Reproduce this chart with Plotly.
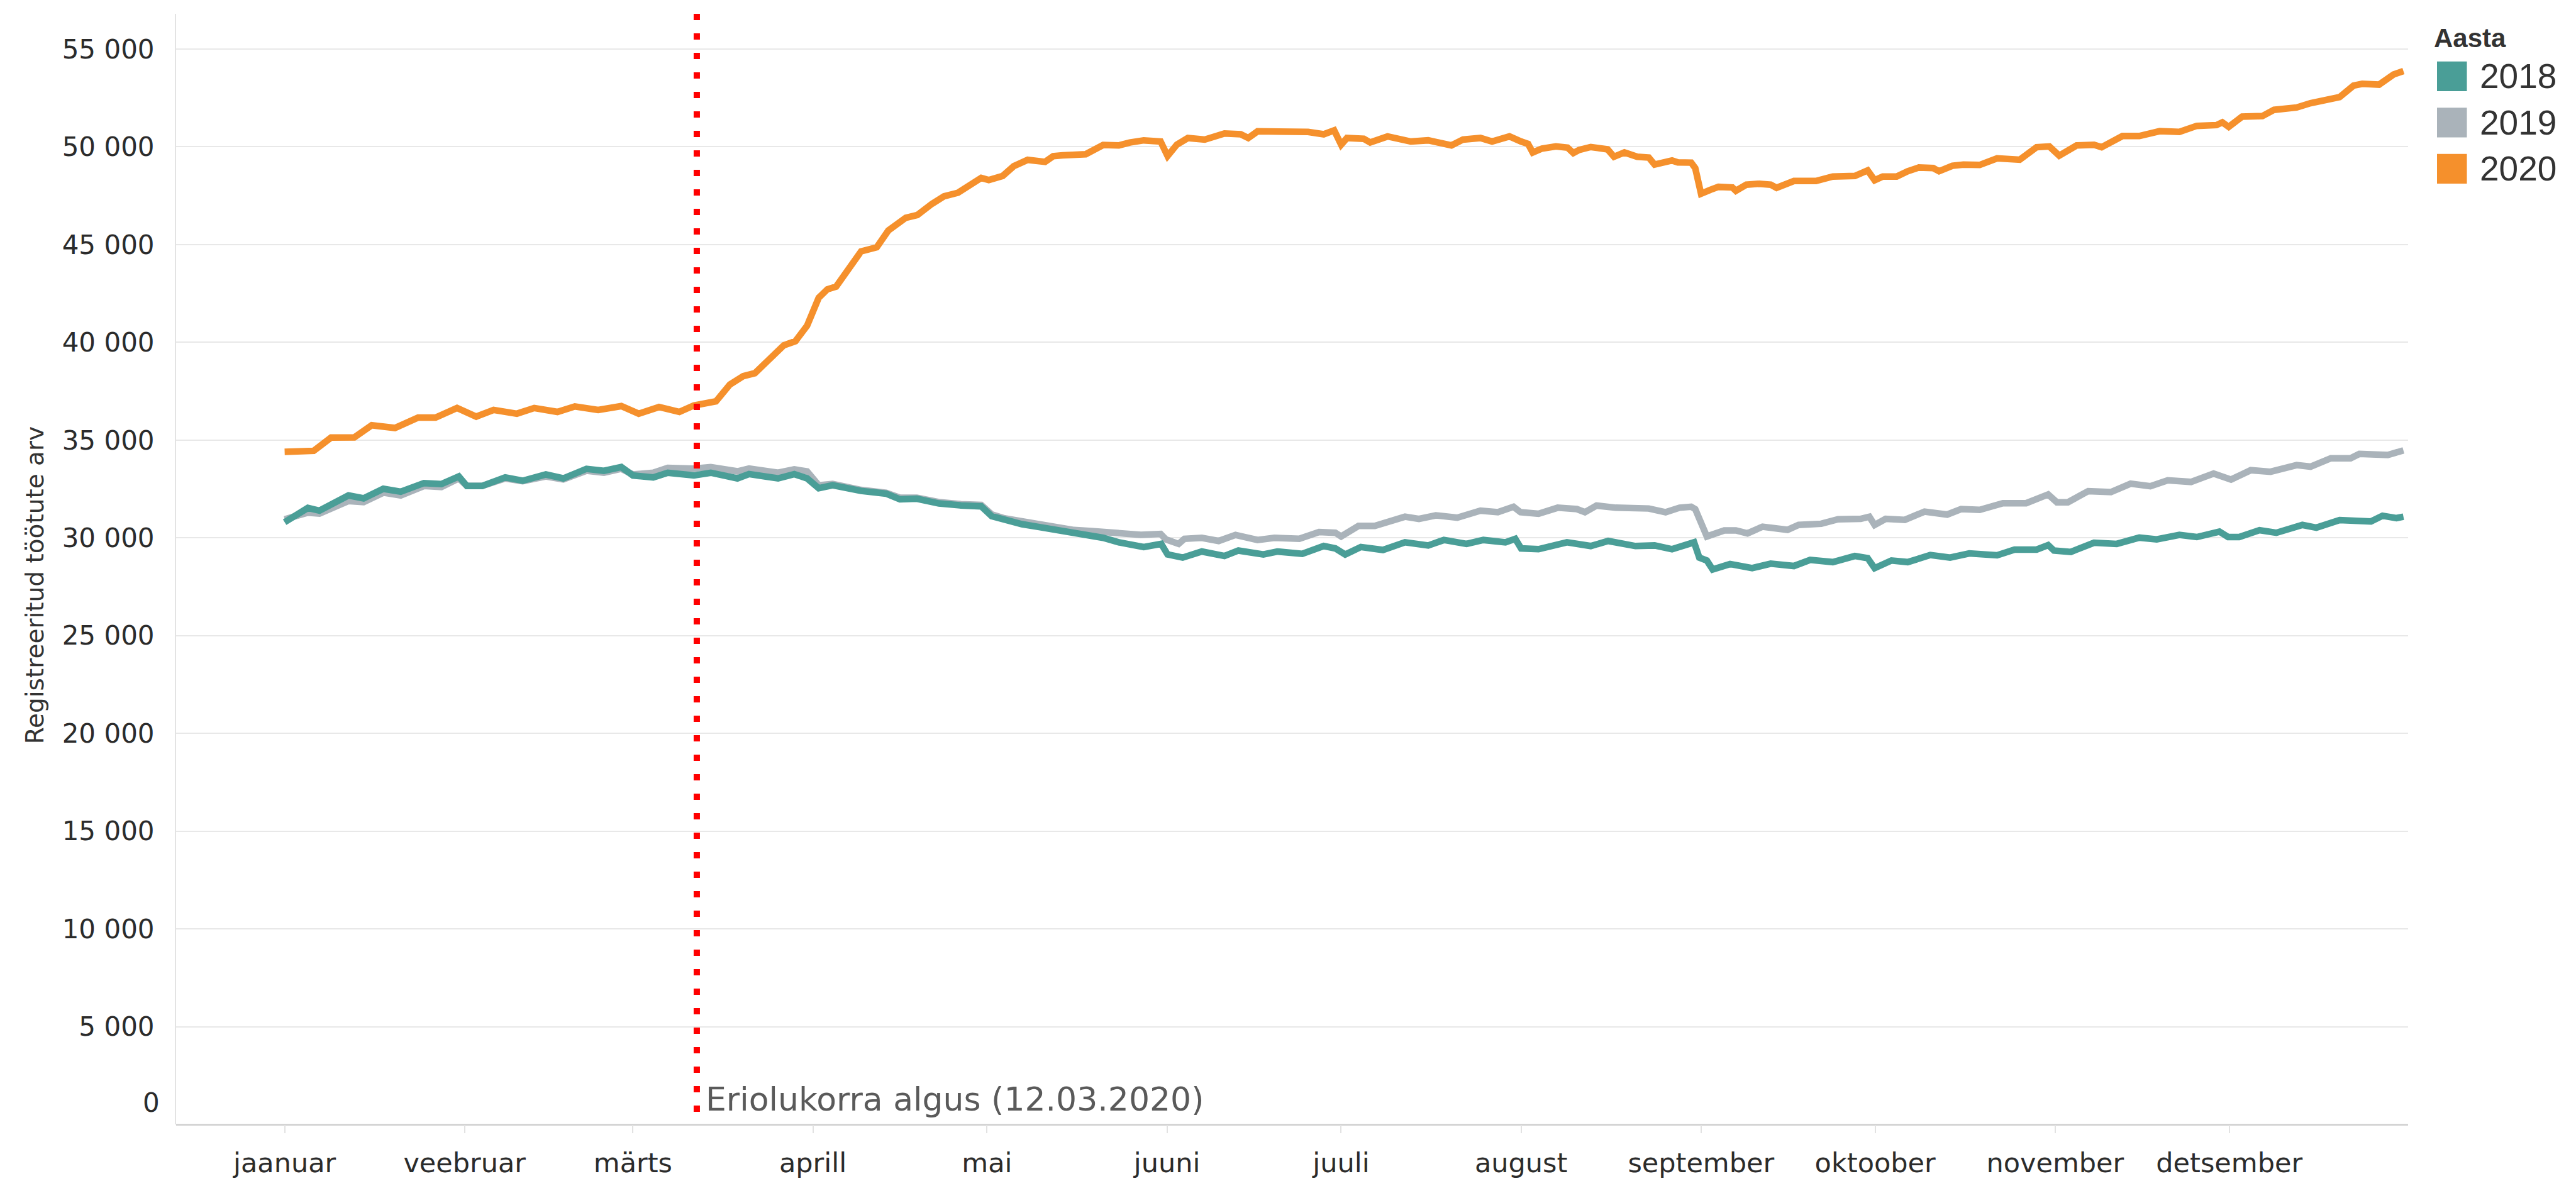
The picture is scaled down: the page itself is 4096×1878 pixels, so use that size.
import datetime as dt
import plotly.graph_objects as go

# ---------------- data (day index from 1 Jan, values = registered unemployed) -------------
years = ["2018", "2019", "2020"]
colors = ["#4A9E97", "#AAB3BA", "#F5902C"]

days_2018 = [0, 4, 6, 11, 13.6, 17, 20, 24, 27, 30, 31.4, 34, 38, 41, 45, 48, 52, 55, 58, 60,
             63.5, 66, 70.5, 73.4, 78, 80, 85, 87.8, 90, 92, 94.4, 99.3, 103.6, 106, 108.9,
             112.7, 116.5, 120, 121.8, 124, 127, 130, 133, 136, 139, 141, 143.7, 148, 151,
             152.1, 154.7, 158, 161.9, 164.3, 168.6, 171, 175.3, 179, 181, 182.7, 185.4, 189.2,
             193, 197, 199.7, 203.6, 206.5, 210.3, 212, 213, 216, 220.9, 225, 228, 232.7, 236,
             239, 242.8, 243.7, 245, 246, 249, 252.8, 256, 260, 262.8, 266.7, 270.5, 272.7,
             273.9, 276.8, 279.6, 283.5, 286.9, 290.2, 295, 298, 301.8, 303.8, 304.8, 307.7,
             311.7, 315.6, 319.5, 322.5, 326.4, 329.4, 333.3, 334.8, 336.7, 340.2, 343.1,
             347.6, 350, 354, 359.4, 361.4, 363.8, 365]
vals_2018 = [30800, 31530, 31390, 32170, 32020, 32510, 32360, 32800, 32750, 33140, 32650, 32650,
             33090, 32920, 33240, 33040, 33530, 33430, 33620, 33190, 33090, 33330, 33190, 33330,
             33040, 33260, 33040, 33260, 33040, 32540, 32690, 32400, 32260, 31970, 32000, 31760,
             31660, 31610, 31110, 30900, 30700, 30550, 30400, 30200, 30100, 30000, 29770, 29530,
             29690, 29150, 28990, 29300, 29070, 29350, 29150, 29300, 29180, 29580, 29460, 29150,
             29530, 29380, 29770, 29610, 29890, 29690, 29890, 29770, 29950, 29460, 29420, 29770,
             29580, 29840, 29580, 29610, 29420, 29770, 28990, 28840, 28380, 28660, 28450, 28680,
             28560, 28870, 28760, 29070, 28960, 28450, 28840, 28760, 29120, 28990, 29200, 29110,
             29400, 29400, 29630, 29350, 29280, 29750, 29690, 30010, 29920, 30150, 30040, 30320,
             30040, 30040, 30390, 30260, 30660, 30520, 30910, 30840, 31130, 31010, 31080]

days_2019 = [0, 4, 6, 11, 13.6, 17, 20, 24, 27, 30, 31.4, 34, 38, 41, 45, 48, 52, 55, 58, 60,
             63.5, 66, 70.5, 73.4, 78, 80, 85, 87.8, 90, 92, 94.4, 99.3, 103.6, 106, 108.9,
             112.7, 116.5, 120, 121.8, 124, 127, 130, 133, 136, 139, 141, 143.7, 147.5, 150.9,
             151.8, 154, 155, 158, 160.9, 163.8, 167.6, 170.5, 174.8, 178.2, 181, 182, 185,
             187.8, 190.7, 193, 195.4, 198.3, 202, 206, 209, 211.7, 212.9, 216, 219.3, 222.6,
             224, 226, 229.3, 233, 235, 237.9, 240.3, 242.3, 243, 245, 248, 250, 252, 254.6,
             258.9, 260.8, 264.7, 267.6, 271.5, 273, 273.9, 275.8, 279.1, 282.5, 286.4, 288.8,
             292, 296, 300, 303.8, 305.3, 307.2, 310.7, 314.6, 318, 321.4, 324.4, 328.4, 332.3,
             335.3, 338.7, 342.1, 346.6, 349, 352.5, 355.9, 357.4, 362.3, 365]
vals_2019 = [30950, 31290, 31240, 31880, 31830, 32310, 32170, 32650, 32600, 33040, 32650, 32650,
             33040, 32900, 33140, 32990, 33430, 33330, 33530, 33240, 33330, 33580, 33540, 33620,
             33400, 33540, 33330, 33500, 33400, 32690, 32760, 32450, 32300, 32050, 32050, 31830,
             31720, 31680, 31200, 31000, 30850, 30700, 30550, 30400, 30350, 30300, 30300, 30150,
             30200, 29920, 29690, 29950, 30000, 29840, 30150, 29890, 30000, 29950, 30300, 30260,
             30070, 30610, 30610, 30920, 31080, 30970, 31150, 31030, 31390, 31310, 31590, 31310,
             31230, 31540, 31470, 31310, 31650, 31540, 31470, 31500, 31310, 31540, 31590, 31470,
             30070, 30380, 30380, 30230, 30570, 30410, 30660, 30720, 30950, 30970, 31080, 30660,
             30970, 30920, 31340, 31190, 31470, 31430, 31770, 31770, 32220, 31820, 31820, 32390,
             32340, 32770, 32640, 32940, 32860, 33290, 32980, 33460, 33380, 33720, 33640, 34070,
             34070, 34290, 34240, 34470]

days_2020 = [0, 5, 8, 12, 15, 19, 23, 26, 29.7, 33, 36, 40, 43, 47, 50, 54, 58, 61, 64.5, 68,
             70.5, 74.3, 76.7, 79, 81, 84, 86, 88, 90, 92, 93.5, 95, 97.4, 99.3, 102, 104, 107,
             109, 111.5, 113.6, 116, 118.4, 120, 121.3, 123.7, 125.6, 128, 131, 132.4, 134, 138,
             141, 143.7, 145.6, 148, 150.9, 152.1, 153.7, 155.6, 158.5, 161.9, 164.7, 166, 167.6,
             172.4, 176.3, 179, 180.8, 182, 183, 185.9, 187, 190, 194, 197, 201, 203, 206, 208,
             211, 213, 214.2, 215, 216.6, 219, 221, 222, 223, 225, 227.9, 229, 230.8, 233, 235,
             236, 239, 240, 242.3, 243, 244, 245.6, 247, 249.4, 250, 251.8, 254, 256, 257, 260,
             263.8, 266.7, 270.5, 272.7, 273.9, 275.3, 277.7, 279.6, 281.5, 284, 285, 287.3,
             289.2, 292, 295, 298.9, 301.8, 304, 305.7, 308.7, 311.7, 313, 316.6, 319.5, 323,
             326.4, 329.4, 332.8, 333.8, 334.9, 337.2, 340.7, 342.7, 346.6, 349, 354, 356.4,
             357.9, 360.8, 363.3, 365]
vals_2020 = [34400, 34450, 35130, 35140, 35760, 35620, 36150, 36150, 36640, 36200, 36540, 36350,
             36640, 36440, 36720, 36540, 36740, 36350, 36690, 36440, 36770, 36980, 37840, 38270,
             38420, 39280, 39850, 40060, 40850, 42280, 42710, 42850, 43930, 44650, 44860, 45720,
             46370, 46510, 47080, 47470, 47650, 48160, 48410, 48300, 48510, 49010, 49330, 49230,
             49520, 49560, 49620, 50090, 50070, 50220, 50330, 50270, 49530, 50110, 50450, 50370,
             50680, 50640, 50450, 50790, 50760, 50760, 50640, 50840, 50110, 50450, 50410, 50220,
             50530, 50270, 50330, 50070, 50370, 50450, 50270, 50530, 50270, 50150, 49710, 49910,
             50020, 49960, 49680, 49840, 49990, 49870, 49490, 49710, 49490, 49450, 49090, 49300,
             49200, 49190, 48910, 47600, 47800, 47950, 47920, 47750, 48060, 48110, 48060, 47900,
             48250, 48250, 48480, 48510, 48790, 48290, 48480, 48480, 48750, 48940, 48910, 48750,
             49030, 49090, 49070, 49410, 49340, 49980, 50020, 49550, 50070, 50100, 49980, 50550,
             50550, 50800, 50760, 51070, 51110, 51250, 51020, 51540, 51570, 51890, 52010, 52230,
             52540, 53130, 53220, 53180, 53700, 53870]

month_labels = ["jaanuar", "veebruar", "märts", "aprill", "mai", "juuni", "juuli", "august",
                "september", "oktoober", "november", "detsember"]
y_ticks = [5000, 10000, 15000, 20000, 25000, 30000, 35000, 40000, 45000, 50000, 55000]
event_date = "2020-03-12"
event_label = "Eriolukorra algus (12.03.2020)"
y_title = "Registreeritud töötute arv"
legend_title = "Aasta"

# ---------------- figure -------------------------------------------------------------------
W, H = 4096, 1878
ML, MR, MT, MB = 272, 275, 14, 86
PW, PH = W - ML - MR, H - MT - MB

base = dt.datetime(2020, 1, 1)


def to_dates(days):
    return [base + dt.timedelta(days=d) for d in days]


def px_x(px):
    return (px - ML) / PW


def px_y(py):
    return (H - MB - py) / PH


series = {"2018": (days_2018, vals_2018), "2019": (days_2019, vals_2019),
          "2020": (days_2020, vals_2020)}
col = dict(zip(years, colors))

fig = go.Figure()
for yr in ["2019", "2018", "2020"]:
    d, v = series[yr]
    fig.add_trace(go.Scatter(x=to_dates(d), y=v, mode="lines", name=yr,
                             line=dict(color=col[yr], width=10.5), showlegend=False))

month_starts = [dt.datetime(2020, m, 1) for m in range(1, 13)]

fig.update_layout(
    width=W, height=H, autosize=False,
    margin=dict(l=ML, r=MR, t=MT, b=MB, pad=0),
    paper_bgcolor="white", plot_bgcolor="white",
    separators=", ",
    font=dict(family="DejaVu Sans", color="#333333"),
    xaxis=dict(type="date",
               range=[base - dt.timedelta(days=18.7), base + dt.timedelta(days=365.8)],
               tickvals=month_starts, ticktext=month_labels,
               ticks="outside", ticklen=13, tickwidth=2, tickcolor="#e2e2e2",
               showgrid=False, showline=False, zeroline=False,
               tickfont=dict(family="DejaVu Sans", size=43, color="#2b2b2b"),
               ticklabelstandoff=10),
    yaxis=dict(range=[0, 56800], tickvals=y_ticks, tickformat=",",
               showgrid=True, gridcolor="#e8e8e8", gridwidth=2,
               zeroline=True, zerolinecolor="#d4d4d4", zerolinewidth=3,
               showline=True, linecolor="#e3e3e3", linewidth=2,
               ticks="", tickfont=dict(family="DejaVu Sans", size=42, color="#2b2b2b"),
               ticklabelstandoff=24),
)

# event marker
fig.add_shape(type="line", xref="x", yref="paper", x0=event_date, x1=event_date, y0=1, y1=0,
              line=dict(color="#FF0000", width=10, dash="10px,21px"), layer="above")
fig.add_annotation(x=event_date, xref="x", y=0, yref="y", text=event_label, showarrow=False,
                   xanchor="left", yanchor="bottom", xshift=12, yshift=8,
                   font=dict(family="DejaVu Sans", size=52, color="#5a5a5a"))

# "0" tick label (sits just above the baseline as in the original)
fig.add_annotation(x=0, xref="paper", y=0, yref="y", text="0", showarrow=False,
                   xanchor="right", yanchor="middle", xshift=-24, yshift=35,
                   font=dict(family="DejaVu Sans", size=42, color="#2b2b2b"))

# y-axis title
fig.add_annotation(x=px_x(47.5), xref="paper", y=px_y(929), yref="paper", text=y_title,
                   textangle=-90, showarrow=False, xanchor="center", yanchor="middle",
                   font=dict(family="DejaVu Sans", size=39, color="#333333"))

# legend (square swatches)
fig.add_annotation(x=px_x(3860), xref="paper", y=px_y(53), yref="paper", text="<b>" + legend_title + "</b>",
                   showarrow=False, xanchor="left", yanchor="middle",
                   font=dict(family="Liberation Sans", size=42, color="#333333"))
sw = 47.5
for i, yr in enumerate(years):
    cy = 114 + 74 * i
    fig.add_shape(type="rect", xref="paper", yref="paper",
                  x0=px_x(3867), x1=px_x(3867 + sw), y0=px_y(cy + sw / 2), y1=px_y(cy - sw / 2),
                  fillcolor=col[yr], line=dict(width=0))
    fig.add_annotation(x=px_x(3933), xref="paper", y=px_y(cy), yref="paper", text=yr,
                       showarrow=False, xanchor="left", yanchor="middle",
                       font=dict(family="Liberation Sans", size=55, color="#333333"))

fig.write_html("out.html")
